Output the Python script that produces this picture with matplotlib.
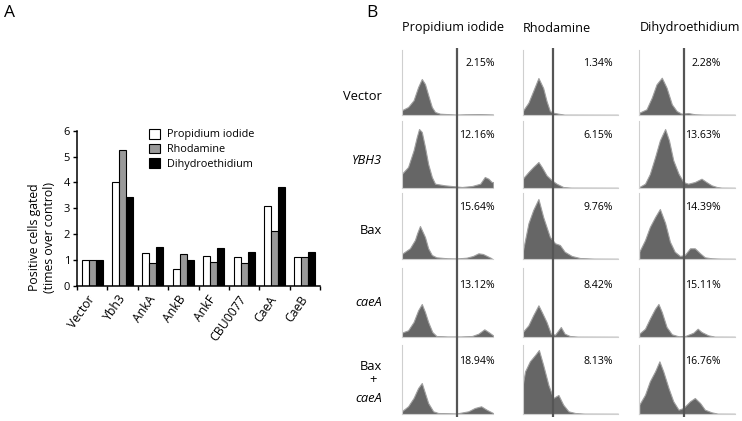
import matplotlib
matplotlib.use('Agg')
from matplotlib import pyplot as plt

plt.rcParams['font.family'] = ['Open Sans', 'DejaVu Sans']

# ---- panel A data ----
categories = ['Vector', 'Ybh3', 'AnkA', 'AnkB', 'AnkF', 'CBU0077', 'CaeA', 'CaeB']
pi_vals = [1.0, 4.0, 1.25, 0.65, 1.14, 1.11, 3.07, 1.11]
rho_vals = [1.0, 5.27, 0.89, 1.23, 0.93, 0.88, 2.12, 1.11]
dhe_vals = [1.0, 3.45, 1.49, 0.98, 1.46, 1.30, 3.83, 1.30]
series_names = ['Propidium iodide', 'Rhodamine', 'Dihydroethidium']

# ---- panel B data: (channel, count) ----
pi_vector = [(0, 4.7), (7, 8), (13, 14.7), (18, 28), (22, 36), (25.5, 31), (29, 20), (33, 8),
             (36.5, 3), (42, 1.3), (60, 0.4), (70, 0.7), (85, 0.9), (100, 0.5)]
pi_ybh3 = [(0, 14), (7, 21), (13, 37.7), (16.5, 51), (19, 59), (22, 56), (25.5, 41), (29, 24),
           (33, 11), (36.5, 4.3), (47, 2.7), (58, 1.7), (66, 1), (77, 2), (86, 4.3), (91, 11),
           (95, 9.3), (98.5, 6), (100, 6)]
pi_bax = [(0, 5), (9, 10.7), (14.5, 19), (17, 26), (20, 33), (25.5, 22), (29, 10.7), (33, 4),
          (38, 1.7), (50, 0.7), (60, 0.5), (71, 1.3), (78, 3), (84, 5.7), (89, 5), (95, 2.3),
          (98.5, 0.7)]
pi_caea = [(0, 4.3), (7, 6.7), (13, 15), (18, 26.7), (22, 33), (25.5, 25), (29, 15), (33.5, 5),
           (38, 1), (50, 0.5), (65, 0.5), (77, 1), (84, 3.3), (90.5, 7.7), (95, 5), (100, 1.7)]
pi_baxcaea = [(0, 2.7), (7, 7.7), (13, 16), (18, 26), (22, 31), (25.5, 21), (29, 11), (34.5, 2.7),
              (40, 1), (60, 0.5), (73, 2.7), (80, 6), (87, 7.7), (93, 4.3), (100, 1)]

rho_vector = [(0, 4), (6, 12.3), (11, 24), (16.5, 37), (21.5, 27), (25, 14), (28.5, 4), (32, 2.3),
              (37.5, 1.3), (44, 0.3), (100, 0.2)]
rho_ybh3 = [(0, 9.3), (6, 16), (11, 21), (16.5, 26), (20, 21), (25, 12.7), (30.5, 7.7),
            (35.5, 4.3), (42.5, 1), (51, 0.3), (100, 0.2)]
rho_bax = [(0, 7.3), (6, 35.7), (11, 49), (16.5, 60), (21.5, 42), (28.5, 22), (34, 15.7),
           (39, 14), (44, 7.3), (51.5, 3), (60, 1), (75, 0.3), (100, 0.2)]
rho_caea = [(0, 5), (6, 11.7), (11, 21.7), (16.5, 31.7), (20, 25), (25, 15), (29.5, 3.3),
            (34, 2.3), (40, 10), (44, 3.3), (49.5, 1), (58, 0.3), (100, 0.2)]
rho_baxcaea = [(0, 29), (2.5, 42.7), (7.5, 52.7), (13, 59), (17, 64), (21.5, 49), (27, 29),
               (32, 16), (37.5, 19), (42.5, 9.3), (48, 2.7), (55, 1), (65, 0.3), (100, 0.2)]

dhe_vector = [(0, 2.3), (7.5, 5.7), (13, 17.3), (18, 30.7), (23.5, 37.3), (28.5, 27.3),
              (34, 10.7), (39, 4), (44, 1.3), (51, 2), (58, 0.7), (68, 0.3), (100, 0.2)]
dhe_ybh3 = [(0, 1), (6, 4.3), (11, 14), (16.5, 31), (21.5, 47.7), (27, 59), (31, 47.7),
            (35.5, 27.7), (41, 14.3), (46, 6), (51, 4.3), (58, 6), (65, 9.3), (70, 6),
            (75.5, 2.7), (81, 1), (86, 0.3), (100, 0.2)]
dhe_bax = [(0, 7.3), (6, 19), (11, 32), (16.5, 42), (21.5, 50), (27, 36), (32, 17.3), (37, 7.3),
           (42.5, 3), (47.5, 4), (53, 10.7), (58, 10.7), (63.5, 5.7), (68.5, 1.7), (75.5, 0.7),
           (85, 0.3), (100, 0.2)]
dhe_caea = [(0, 3.3), (6, 8.3), (11, 18.3), (16.5, 28.3), (20, 33), (23.5, 25), (28.5, 10),
            (34, 2.7), (41, 0.7), (48, 1), (56.5, 4.3), (61, 8.3), (65, 5), (72, 1.7),
            (79, 0.3), (100, 0.2)]
dhe_baxcaea = [(0, 9.3), (6, 19.3), (11, 32.7), (16.5, 42.7), (21, 52.7), (25, 42.7),
               (30.5, 26), (35.5, 12.7), (41, 4.3), (46, 6), (53, 12.7), (58, 16),
               (63.5, 11), (68.5, 4.3), (75.5, 1.7), (82, 0.3), (100, 0.2)]

percents = [['2.15%', '1.34%', '2.28%'],
            ['12.16%', '6.15%', '13.63%'],
            ['15.64%', '9.76%', '14.39%'],
            ['13.12%', '8.42%', '15.11%'],
            ['18.94%', '8.13%', '16.76%']]
gates = [60.6, 31.5, 46.4]

hists = [[pi_vector, rho_vector, dhe_vector],
         [pi_ybh3, rho_ybh3, dhe_ybh3],
         [pi_bax, rho_bax, dhe_bax],
         [pi_caea, rho_caea, dhe_caea],
         [pi_baxcaea, rho_baxcaea, dhe_baxcaea]]

W, H = 742, 421
fig = plt.figure(figsize=(W / 100, H / 100), dpi=100)


def rect(x0, y0, x1, y1):
    # pixel box (top-left origin) -> figure fraction
    return [x0 / W, 1 - y1 / H, (x1 - x0) / W, (y1 - y0) / H]


# ---------------- panel A ----------------
ax = fig.add_axes(rect(77, 130.7, 320, 285.7))
n = len(categories)
bw = 0.23
xs = [i + 0.5 for i in range(n)]
ax.bar([x - bw for x in xs], pi_vals, bw, color='white', edgecolor='black', lw=0.8,
       label=series_names[0])
ax.bar(xs, rho_vals, bw, color='#999999', edgecolor='black', lw=0.8, label=series_names[1])
ax.bar([x + bw for x in xs], dhe_vals, bw, color='black', edgecolor='black', lw=0.8,
       label=series_names[2])
ax.set_xlim(0, n)
ax.set_ylim(0, 6)
ax.set_yticks(range(7))
ax.set_xticks(range(n + 1))
ax.set_xticklabels([])
ax.set_xticks(xs, minor=True)
ax.set_xticklabels(categories, minor=True, rotation=55, ha='right', va='center',
                   rotation_mode='anchor', fontsize=8.8)
ax.tick_params(axis='x', which='minor', length=0, pad=8)
ax.tick_params(axis='x', which='major', length=3, width=1)
ax.tick_params(axis='y', length=3, width=1, labelsize=8, pad=2)
for s in ['top', 'right']:
    ax.spines[s].set_visible(False)
for s in ['left', 'bottom']:
    ax.spines[s].set_linewidth(1.1)
ax.set_ylabel('Positive cells gated\n(times over control)', fontsize=8.8, linespacing=1.2)
ax.yaxis.set_label_coords(-0.085, 0.31)
ax.legend(loc='upper left', bbox_to_anchor=(0.28, 1.04), frameon=False, fontsize=7.8,
          handlelength=1.0, handleheight=1.0, handletextpad=0.6, labelspacing=0.3,
          borderaxespad=0)

fig.text(9 / W, 1 - 13 / H, 'A', fontsize=12.5, ha='center', va='center')
fig.text(372 / W, 1 - 13 / H, 'B', fontsize=12.5, ha='center', va='center')

# ---------------- panel B ----------------
col_left = [401.7, 522.7, 639.3]
col_width = [91.3, 95.3, 95.7]
row_top = [50, 121, 193, 268, 345]
row_bot = [115, 188, 259, 337, 414]
pct_right = [495, 613, 721]

for c, name in enumerate(series_names):
    fig.text(col_left[c] / W, 1 - 28 / H, name, fontsize=9.1, ha='left', va='center')

for r in range(5):
    for c in range(3):
        hx = fig.add_axes(rect(col_left[c], row_top[r], col_left[c] + col_width[c], row_bot[r]))
        pts = hists[r][c]
        px = [p[0] for p in pts]
        py = [p[1] for p in pts]
        hx.fill_between(px, py, 0, color='#666666', edgecolor='#a0a0a0', lw=0.8)
        hx.set_xlim(0, 100)
        hx.set_ylim(0, row_bot[r] - row_top[r])
        hx.set_xticks([])
        hx.set_yticks([])
        for s in ['top', 'right']:
            hx.spines[s].set_visible(False)
        for s in ['left', 'bottom']:
            hx.spines[s].set_color('#cfcfcf')
            hx.spines[s].set_linewidth(0.8)
        fig.text(pct_right[c] / W, 1 - (row_bot[r] - 52) / H, percents[r][c],
                 fontsize=7.6, ha='right', va='center')

# gate lines running through all rows
for c in range(3):
    gx = fig.add_axes(rect(col_left[c], 48, col_left[c] + col_width[c], 417))
    gx.axis('off')
    gx.set_xlim(0, 100)
    gx.axvline(gates[c], color='#555555', lw=1.6)

# row labels
fig.text(382 / W, 1 - 96 / H, 'Vector', fontsize=9.3, ha='right', va='center')
fig.text(382 / W, 1 - 161 / H, 'YBH3', fontsize=9.3, ha='right', va='center', style='italic')
fig.text(382 / W, 1 - 230 / H, 'Bax', fontsize=9.3, ha='right', va='center')
fig.text(382 / W, 1 - 303 / H, 'caeA', fontsize=9.3, ha='right', va='center', style='italic')
fig.text(382 / W, 1 - 366.7 / H, 'Bax', fontsize=9.3, ha='right', va='center')
fig.text(373 / W, 1 - 380 / H, '+', fontsize=9.3, ha='center', va='center')
fig.text(382 / W, 1 - 398 / H, 'caeA', fontsize=9.3, ha='right', va='center', style='italic')

fig.savefig('out.png', dpi=100)
